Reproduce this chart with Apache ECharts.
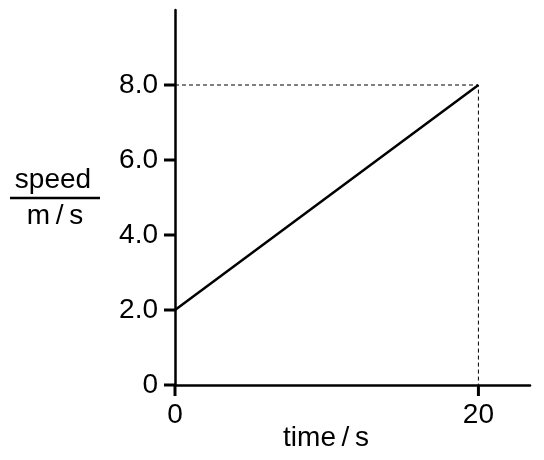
<!DOCTYPE html>
<html>
<head>
<meta charset="utf-8">
<script src="https://cdn.jsdelivr.net/npm/echarts@6/dist/echarts.min.js"></script>
<style>html,body{margin:0;padding:0;background:#fff}#c{width:544px;height:460px}</style>
</head>
<body>
<div id="c"></div>
<script>
const timeValues = [0, 20];
const speedValues = [2.0, 8.0];
const guideX = [0, 20, 20];
const guideY = [8.0, 8.0, 0];
const xTicks = [0, 20];
const yTicks = [0, 2, 4, 6, 8];
const xName = "time\u2009/\u2009s";
const yNameTop = "speed";
const yNameBottom = "m\u2009/\u2009s";

const FONT = "'Liberation Sans', Arial, sans-serif";
const TICK_LEN = 11;
const TICK_W = 3;
const chart = echarts.init(document.getElementById('c'), null, {renderer: 'canvas'});
function tickSeries(values, dir) {
  return {
    type: 'custom', clip: false, z: 5, coordinateSystem: 'cartesian2d',
    data: values.map(v => dir === 'x' ? [v, 0] : [0, v]),
    renderItem: function (params, api) {
      const p = api.coord([api.value(0), api.value(1)]);
      const shape = dir === 'x'
        ? {x: p[0] - TICK_W / 2, y: p[1], width: TICK_W, height: TICK_LEN}
        : {x: p[0] - TICK_LEN, y: p[1] - TICK_W / 2, width: TICK_LEN, height: TICK_W};
      return {type: 'rect', shape: shape, style: {fill: '#000', stroke: null}};
    }
  };
}
chart.setOption({
  animation: false,
  backgroundColor: '#fff',
  grid: {left: 175, right: 14, top: 10, bottom: 75, containLabel: false},
  xAxis: {
    type: 'value', min: 0, max: 23.4,
    splitLine: {show: false},
    axisLine: {show: true, onZero: false, lineStyle: {color: '#000', width: 2.5}},
    axisTick: {show: false},
    axisLabel: {customValues: xTicks, color: '#000', fontSize: 28, fontFamily: FONT, margin: 16,
      formatter: v => String(v)}
  },
  yAxis: {
    type: 'value', min: 0, max: 10,
    splitLine: {show: false},
    axisLine: {show: true, onZero: false, lineStyle: {color: '#000', width: 2.5}},
    axisTick: {show: false},
    axisLabel: {customValues: yTicks, color: '#000', fontSize: 28, fontFamily: FONT, margin: 17,
      formatter: v => v === 0 ? '0' : v.toFixed(1)}
  },
  series: [
    {type: 'line', data: timeValues.map((t, i) => [t, speedValues[i]]), symbol: 'none',
      lineStyle: {color: '#000', width: 2.5}, z: 3},
    {type: 'line', data: guideX.map((t, i) => [t, guideY[i]]), symbol: 'none',
      lineStyle: {color: '#000', width: 1, type: [4, 3]}, z: 2},
    tickSeries(xTicks, 'x'),
    tickSeries(yTicks, 'y')
  ],
  graphic: [
    {type: 'text', x: 326, y: 452, style: {text: xName, fontSize: 28, fontFamily: FONT, fill: '#000', align: 'center', verticalAlign: 'bottom'}},
    {type: 'text', x: 53, y: 194, style: {text: yNameTop, fontSize: 28, fontFamily: FONT, fill: '#000', align: 'center', verticalAlign: 'bottom'}},
    {type: 'line', shape: {x1: 10, y1: 198, x2: 100, y2: 198}, style: {stroke: '#000', lineWidth: 2.5}},
    {type: 'text', x: 55, y: 202, style: {text: yNameBottom, fontSize: 28, fontFamily: FONT, fill: '#000', align: 'center', verticalAlign: 'top'}}
  ]
});
</script>
</body>
</html>
